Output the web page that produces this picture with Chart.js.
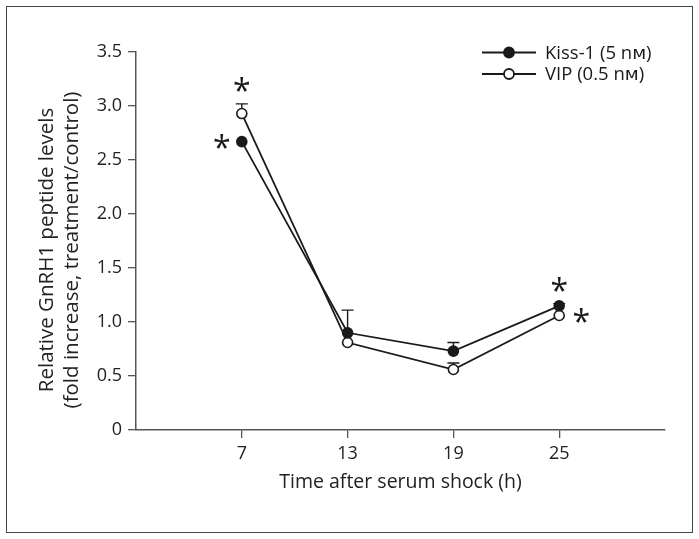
<!DOCTYPE html>
<html>
<head>
<meta charset="utf-8">
<script src="https://cdn.jsdelivr.net/npm/chart.js@4.4.0/dist/chart.umd.min.js"></script>
<style>
  html, body { margin: 0; padding: 0; background: #fff; }
</style>
</head>
<body>
<canvas id="myChart" width="699" height="539"></canvas>
<script>
// hours after serum shock
const hours = [7, 13, 19, 25]
// relative GnRH1 peptide levels
const kiss = [2.67, 0.90, 0.73, 1.15]
const vip = [2.93, 0.81, 0.56, 1.06]
// upper error bars
const kissErr = [0, 0.21, 0.08, 0.02]
const vipErr = [0.09, 0, 0.06, 0]
// significance stars: where the * sits next to each point
const kissStars = ['left', null, null, 'top']
const vipStars = ['top', null, null, 'right']
const yTicks = [0, 0.5, 1, 1.5, 2, 2.5, 3, 3.5]
const legendLabels = ['Kiss-1 (5 n\u1D0D)', 'VIP (0.5 n\u1D0D)']
const yTitle = ['Relative GnRH1 peptide levels', '(fold increase, treatment/control)']

const FONT = "'Open Sans', 'DejaVu Sans', sans-serif"
const INK = '#1a1a1a'
const AXIS = '#555'

const toXY = arr => arr.map((v, i) => ({x: hours[i], y: v}))

// frame, y title, error bars, stars and legend
const extras = {
  id: 'extras',
  beforeDraw(chart) {
    const c = chart.ctx
    c.save()
    c.strokeStyle = '#444'
    c.lineWidth = 1
    c.strokeRect(6.5, 6.5, 686, 526)

    // y axis title, two lines
    c.translate(47, 250)
    c.rotate(-Math.PI / 2)
    c.fillStyle = '#222'
    c.font = '20.5px ' + FONT
    c.textAlign = 'center'
    c.textBaseline = 'middle'
    yTitle.forEach((t, i) => c.fillText(t, 0, i * 25.5))
    c.restore()
  },
  beforeDatasetsDraw(chart) {
    const c = chart.ctx
    const xs = chart.scales.x, ys = chart.scales.y
    c.save()
    c.strokeStyle = INK
    c.lineWidth = 1.4
    ;[[kiss, kissErr], [vip, vipErr]].forEach(([vals, errs]) => {
      vals.forEach((v, i) => {
        if (!errs[i]) return
        const px = xs.getPixelForValue(hours[i])
        const y0 = ys.getPixelForValue(v)
        const y1 = ys.getPixelForValue(v + errs[i])
        c.beginPath()
        c.moveTo(px, y0); c.lineTo(px, y1)
        c.moveTo(px - 6, y1); c.lineTo(px + 6, y1)
        c.stroke()
      })
    })
    c.restore()
  },
  afterDatasetsDraw(chart) {
    const c = chart.ctx
    const xs = chart.scales.x, ys = chart.scales.y
    c.save()
    c.fillStyle = INK
    c.font = '32px ' + FONT
    c.textAlign = 'center'
    c.textBaseline = 'alphabetic'
    const m = c.measureText('*')
    const mid = (m.actualBoundingBoxAscent - m.actualBoundingBoxDescent) / 2
    ;[[kiss, kissErr, kissStars], [vip, vipErr, vipStars]].forEach(([vals, errs, stars]) => {
      stars.forEach((s, i) => {
        if (!s) return
        const px = xs.getPixelForValue(hours[i])
        const py = ys.getPixelForValue(vals[i])
        const top = ys.getPixelForValue(vals[i] + errs[i])
        let sx = px, sy = py
        if (s === 'top') sy = Math.min(py - 21, top - 19)
        if (s === 'left') sx = px - 20
        if (s === 'right') sx = px + 22
        c.fillText('*', sx, sy + mid)
      })
    })

    // legend
    const rows = [{y: 52.5, fill: INK}, {y: 74, fill: '#fff'}]
    c.font = '18.5px ' + FONT
    c.textAlign = 'left'
    c.textBaseline = 'middle'
    rows.forEach((r, i) => {
      c.strokeStyle = INK
      c.lineWidth = 1.8
      c.beginPath()
      c.moveTo(482, r.y); c.lineTo(536, r.y)
      c.stroke()
      c.beginPath()
      c.arc(509, r.y, 5, 0, Math.PI * 2)
      c.fillStyle = r.fill
      c.fill()
      c.stroke()
      c.fillStyle = INK
      c.fillText(legendLabels[i], 545, r.y + 1)
    })
    c.restore()
  }
}

const ctx = document.getElementById('myChart')

new Chart(ctx, {
  type: 'line',
  data: {
    datasets: [{
      label: legendLabels[0],
      data: toXY(kiss),
      borderColor: INK,
      borderWidth: 1.8,
      pointRadius: 5,
      pointBorderWidth: 1.6,
      pointBackgroundColor: INK,
      pointBorderColor: INK,
      tension: 0,
    }, {
      label: legendLabels[1],
      data: toXY(vip),
      borderColor: INK,
      borderWidth: 1.8,
      pointRadius: 5,
      pointBorderWidth: 1.6,
      pointBackgroundColor: '#fff',
      pointBorderColor: INK,
      tension: 0,
    }]
  },
  options: {
    responsive: false,
    animation: false,
    layout: { padding: { left: 0, top: 52, right: 34, bottom: 0 } },
    plugins: {
      legend: { display: false },
      tooltip: { enabled: false },
    },
    scales: {
      x: {
        type: 'linear',
        min: 1,
        max: 31,
        afterBuildTicks: s => { s.ticks = hours.map(v => ({value: v})) },
        afterFit: s => { s.height = 109 },
        grid: { drawOnChartArea: false, tickLength: 8, color: AXIS, lineWidth: 1.3 },
        border: { color: AXIS, width: 1.5 },
        ticks: { padding: 5, color: '#222', font: { size: 18, family: FONT } },
        title: {
          display: true,
          text: 'Time after serum shock (h)',
          color: '#222',
          font: { size: 19.5, family: FONT },
          padding: { top: 0, bottom: 45 }
        }
      },
      y: {
        min: 0,
        max: 3.5,
        afterBuildTicks: s => { s.ticks = yTicks.map(v => ({value: v})) },
        afterFit: s => { s.width = 136 },
        grid: { drawOnChartArea: false, tickLength: 8, color: AXIS, lineWidth: 1.3 },
        border: { color: AXIS, width: 1.5 },
        ticks: {
          padding: 6,
          color: '#222',
          font: { size: 18, family: FONT },
          callback: v => v === 0 ? '0' : v.toFixed(1)
        }
      }
    }
  },
  plugins: [extras]
})
</script>
</body>
</html>
